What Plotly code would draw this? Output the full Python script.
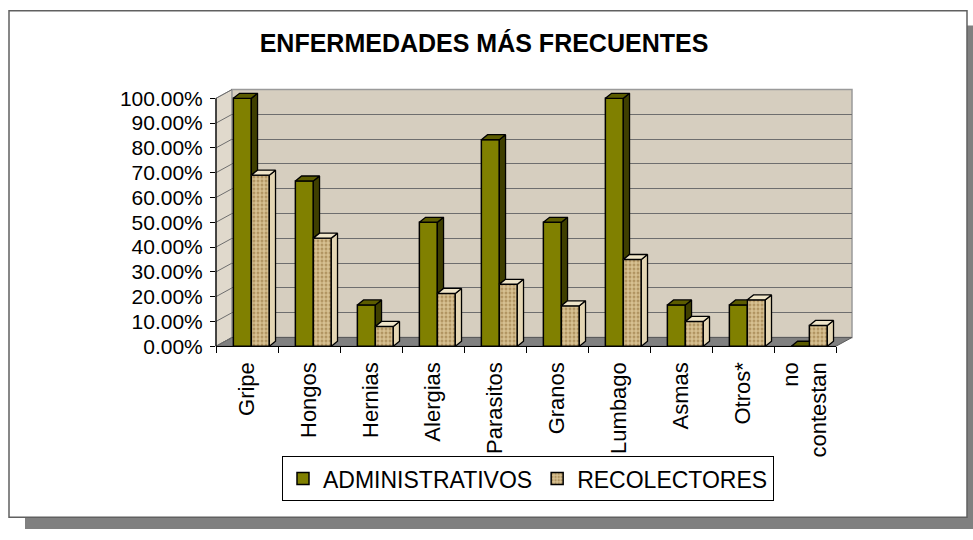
import plotly.graph_objects as go

W, H = 973, 540

categories = ["Gripe", "Hongos", "Hernias", "Alergias", "Parasitos", "Granos",
              "Lumbago", "Asmas", "Otros*", "no<br>contestan"]
admin = [1.0, 0.6667, 0.1667, 0.50, 0.8333, 0.50, 1.0, 0.1667, 0.1667, 0.0]
recol = [0.69, 0.436, 0.08, 0.213, 0.25, 0.163, 0.35, 0.10, 0.187, 0.084]
series_names = ["ADMINISTRATIVOS", "RECOLECTORES"]
title_text = "ENFERMEDADES MÁS FRECUENTES"

FONT = "Arial, Liberation Sans, sans-serif"
BAR_W = 0.29
ADM_OFF = -0.22
DX, DY = 0.10, 0.02

# geometry (screen pixels)
FX0, FX1 = 216, 836
FY0 = 352
UNIT = 255
DPX, DPY = 16, 9


def px(x):
    return x / W


def py(y):
    return 1 - y / H


def ppath(points):
    return "M " + " L ".join(f"{px(x):.5f},{py(y):.5f}" for x, y in points) + " Z"


xs = list(range(len(categories)))

fig = go.Figure()

# invisible trace for the back-wall subplot (gridlines)
fig.add_trace(go.Scatter(x=[0.5], y=[0.5], mode="markers", marker=dict(opacity=0),
                         showlegend=False, hoverinfo="skip", xaxis="x", yaxis="y"))

fig.add_trace(go.Bar(name=series_names[0], x=xs, y=admin, width=BAR_W, offset=ADM_OFF,
                     marker=dict(color="#808000", line=dict(color="black", width=1.5)),
                     xaxis="x2", yaxis="y2", hoverinfo="skip"))
fig.add_trace(go.Bar(name=series_names[1], x=xs, y=recol, width=BAR_W, offset=ADM_OFF + BAR_W,
                     marker=dict(color="#d4bc8c", line=dict(color="black", width=1.5),
                                 pattern=dict(shape=".", fgcolor="#8a6530", bgcolor="#d8c293",
                                              size=4, solidity=0.45)),
                     xaxis="x2", yaxis="y2", hoverinfo="skip"))


def faces(vals, left_off, other=None):
    sx, sy, tx, ty = [], [], [], []
    for i, v in zip(xs, vals):
        x0 = i + left_off
        x1 = x0 + BAR_W
        lo = 0
        clip = False
        if other is not None:
            if other[i] >= v:
                clip = True
            else:
                lo = other[i]
        if not clip:
            sx += [x1, x1, x1 + DX, x1 + DX, x1, None]
            sy += [lo, v, v + DY, lo + DY, lo, None]
            tx += [x0, x1, x1 + DX, x0 + DX, x0, None]
            ty += [v, v, v + DY, v + DY, v, None]
        else:
            tx += [x0, x1, x1, x0 + DX, x0, None]
            ty += [v, v, v + DY, v + DY, v, None]
    return sx, sy, tx, ty


asx, asy, atx, aty = faces(admin, ADM_OFF, recol)
rsx, rsy, rtx, rty = faces(recol, ADM_OFF + BAR_W)

for fx, fy, col in [(asx, asy, "#3f3f00"), (atx, aty, "#5c5c00"),
                    (rsx, rsy, "#e4d6b4"), (rtx, rty, "#efe5c9")]:
    fig.add_trace(go.Scatter(x=fx, y=fy, mode="lines", fill="toself", fillcolor=col,
                             line=dict(color="black", width=1.3), showlegend=False,
                             hoverinfo="skip", xaxis="x2", yaxis="y2"))

shapes = []
# outer box with shadow
shapes.append(dict(type="rect", xref="paper", yref="paper", x0=px(25), y0=py(22), x1=px(973), y1=py(540),
                   fillcolor="#808080", line=dict(width=0), layer="below"))
shapes.append(dict(type="rect", xref="paper", yref="paper", x0=px(9), y0=py(7), x1=px(967), y1=py(528),
                   fillcolor="white", line=dict(color="#606060", width=1.5), layer="below"))
WALL = "#d6cebf"
# side wall
shapes.append(dict(type="path", xref="paper", yref="paper",
                   path=ppath([(FX0, FY0), (FX0, FY0 - UNIT), (FX0 + DPX, FY0 - DPY - UNIT), (FX0 + DPX, FY0 - DPY)]),
                   fillcolor="#e0d9cc", line=dict(color="#9a9a9a", width=1), layer="below"))
# back wall
shapes.append(dict(type="rect", xref="paper", yref="paper",
                   x0=px(FX0 + DPX), y0=py(FY0 - DPY), x1=px(FX1 + DPX), y1=py(FY0 - DPY - UNIT),
                   fillcolor=WALL, line=dict(color="#9a9a9a", width=1.5), layer="below"))
# floor
shapes.append(dict(type="path", xref="paper", yref="paper",
                   path=ppath([(FX0, FY0), (FX1, FY0), (FX1 + DPX, FY0 - DPY), (FX0 + DPX, FY0 - DPY)]),
                   fillcolor="#808080", line=dict(color="#5a5a5a", width=1), layer="below"))
# side-wall tick diagonals
for k in range(11):
    v = k / 10
    shapes.append(dict(type="line", xref="paper", yref="paper",
                       x0=px(FX0), y0=py(FY0 - v * UNIT), x1=px(FX0 + DPX), y1=py(FY0 - DPY - v * UNIT),
                       line=dict(color="#6e6e6e", width=1), layer="below"))
# front value-axis line
shapes.append(dict(type="line", xref="paper", yref="paper", x0=px(FX0), y0=py(FY0), x1=px(FX0), y1=py(FY0 - UNIT),
                   line=dict(color="black", width=1.3), layer="below"))

YTOP = 1.03

fig.update_layout(
    width=W, height=H, autosize=False,
    margin=dict(l=0, r=0, t=0, b=0),
    paper_bgcolor="white", plot_bgcolor="rgba(0,0,0,0)",
    font=dict(family=FONT, color="black"),
    barmode="overlay",
    shapes=shapes,
    title=dict(text="<b>" + title_text + "</b>", x=px(484), xanchor="center", y=py(40), yanchor="middle",
               xref="paper", yref="paper", font=dict(size=25, family=FONT, color="black")),
    xaxis=dict(domain=[px(FX0 + DPX), px(FX1 + DPX)], range=[0, 1], visible=False, anchor="y"),
    yaxis=dict(domain=[py(FY0 - DPY), py(FY0 - DPY - UNIT)], range=[0, 1], anchor="x",
               tickmode="linear", tick0=0, dtick=0.1, showgrid=True, gridcolor="#6e6e6e", gridwidth=1.3,
               showticklabels=False, ticks="", zeroline=False, showline=False),
    xaxis2=dict(domain=[px(FX0), px(FX1)], range=[-0.5, 9.5], anchor="y2",
                tickmode="array", tickvals=xs, ticktext=categories, tickangle=-90, ticks="",
                showline=True, linecolor="black", linewidth=1.3, showgrid=False, zeroline=False,
                tickfont=dict(size=22, family=FONT, color="black"), ticklabelstandoff=6,
                minor=dict(tickmode="linear", tick0=-0.5, dtick=1, ticks="outside", ticklen=6,
                           tickcolor="black", tickwidth=1.2, showgrid=False)),
    yaxis2=dict(domain=[py(FY0), py(FY0 - YTOP * UNIT)], range=[0, YTOP], anchor="x2",
                tickmode="linear", tick0=0, dtick=0.1, tickformat=".2%", ticks="outside", ticklen=5,
                tickcolor="black", tickwidth=1.2, showline=False, showgrid=False, zeroline=False,
                tickfont=dict(size=21, family=FONT, color="black"), ticklabelstandoff=3),
    legend=dict(orientation="h", x=px(528), xanchor="center", y=py(465), yanchor="top",
                bordercolor="black", borderwidth=1, bgcolor="white", itemwidth=30,
                font=dict(size=23, family=FONT, color="black"), traceorder="normal"),
    showlegend=True,
)

fig.write_html("out.html", config={"displayModeBar": False},
               post_script="document.body.style.margin='0px';"
                           "document.body.style.overflow='hidden';"
                           "document.documentElement.style.overflow='hidden';")
